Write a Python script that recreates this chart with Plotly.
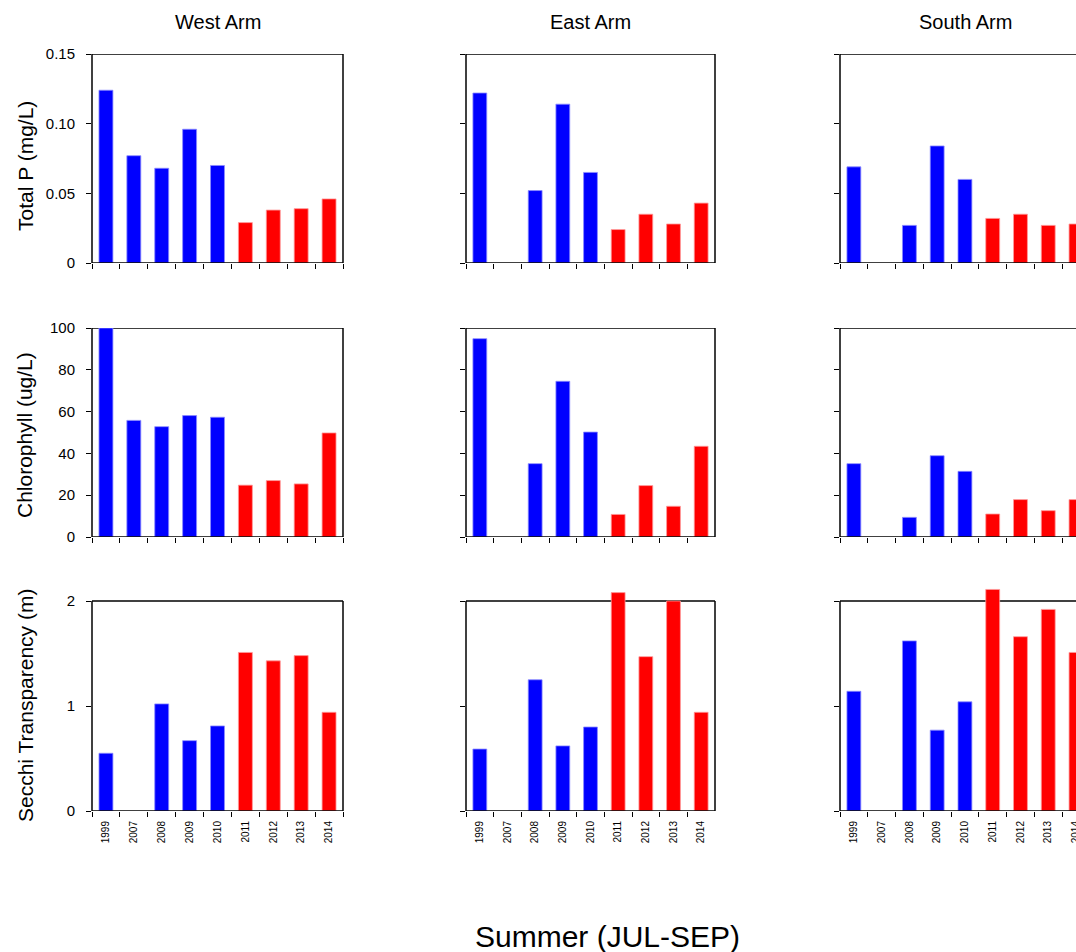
import plotly.graph_objects as go

# Summer (JUL-SEP) water-quality means by lake arm
years = ["1999", "2007", "2008", "2009", "2010", "2011", "2012", "2013", "2014"]
arms = ["West Arm", "East Arm", "South Arm"]
variables = ["Total P (mg/L)", "Chlorophyll (ug/L)", "Secchi Transparency (m)"]

# Total phosphorus (mg/L)
tp_west = [0.124, 0.077, 0.068, 0.096, 0.070, 0.029, 0.038, 0.039, 0.046]
tp_east = [0.122, None, 0.052, 0.114, 0.065, 0.024, 0.035, 0.028, 0.043]
tp_south = [0.069, None, 0.027, 0.084, 0.060, 0.032, 0.035, 0.027, 0.028]

# Chlorophyll (ug/L)
chl_west = [100.0, 55.8, 52.8, 58.1, 57.3, 24.8, 27.0, 25.4, 49.8]
chl_east = [94.9, None, 35.1, 74.5, 50.2, 10.8, 24.6, 14.7, 43.4]
chl_south = [35.1, None, 9.4, 38.9, 31.4, 11.0, 17.9, 12.6, 17.9]

# Secchi transparency (m)
sd_west = [0.55, None, 1.02, 0.67, 0.81, 1.51, 1.43, 1.48, 0.94]
sd_east = [0.59, None, 1.25, 0.62, 0.80, 2.08, 1.47, 2.00, 0.94]
sd_south = [1.14, None, 1.62, 0.77, 1.04, 2.11, 1.66, 1.92, 1.51]

# Years up to 2010 are blue, later years red
before_color = "#0000FF"
after_color = "#FF0000"
split_year = "2010"

# (tick values, tick text, framed range, drawn range)
y_ticks = [
    ([0, 0.05, 0.10, 0.15], ["0", "0.05", "0.10", "0.15"], [0, 0.15], [0, 0.15]),
    ([0, 20, 40, 60, 80, 100], ["0", "20", "40", "60", "80", "100"], [0, 100], [0, 100]),
    ([0, 1, 2], ["0", "1", "2"], [0, 2], [0, 2.15]),
]

grid = [
    [tp_west, tp_east, tp_south],
    [chl_west, chl_east, chl_south],
    [sd_west, sd_east, sd_south],
]

W, H = 1076, 952
col_px = [(92, 343), (466, 715), (840, 1076)]
row_px = [(54, 263), (328, 537), (601, 811)]

FONT = "Liberation Sans, Arial, sans-serif"

fig = go.Figure()
layout = {}
shapes = []

for r in range(3):
    for c in range(3):
        i = r * 3 + c + 1
        xs = "" if i == 1 else str(i)
        vals = grid[r][c]
        colors = [before_color if y <= split_year else after_color for y in years]
        edge = ["#8c8cff" if y <= split_year else "#ff9a9a" for y in years]
        fig.add_trace(go.Bar(
            x=years, y=vals,
            xaxis="x" + xs, yaxis="y" + xs,
            width=0.5,
            marker=dict(color=colors, line=dict(color=edge, width=0.8)),
            showlegend=False,
            hoverinfo="x+y",
        ))

        x0, x1 = col_px[c]
        top, bot = row_px[r]
        tv, tt, frame_rng, draw_rng = y_ticks[r]
        # the Secchi row is drawn a little taller so bars can rise above the frame
        px_per_unit = (bot - top) / (frame_rng[1] - frame_rng[0])
        draw_top = bot - (draw_rng[1] - draw_rng[0]) * px_per_unit

        xrange = [-0.5, 8.5] if c < 2 else [-0.5, 8.0]
        layout["xaxis" + xs] = dict(
            domain=[x0 / W, x1 / W],
            anchor="y" + xs,
            type="category",
            range=xrange,
            showgrid=False, zeroline=False,
            showline=False,
            ticks="outside", ticklen=5, tickwidth=1.2, tickcolor="black",
            tickson="boundaries",
            tickangle=-90,
            showticklabels=(r == 2),
            tickfont=dict(family=FONT, size=10, color="black"),
            ticklabelstandoff=7,
            fixedrange=True,
        )
        layout["yaxis" + xs] = dict(
            domain=[1 - bot / H, 1 - draw_top / H],
            anchor="x" + xs,
            range=draw_rng,
            showgrid=False, zeroline=False,
            showline=False,
            ticks="outside", ticklen=5, tickwidth=1.2, tickcolor="black",
            tickvals=tv, ticktext=tt,
            showticklabels=(c == 0),
            tickfont=dict(family=FONT, size=15, color="black"),
            ticklabelstandoff=8,
            fixedrange=True,
        )

        # frame: bottom, left, top, and right (right edge lies off-page for South Arm)
        xr = "x" + xs + " domain"
        yr = "y" + xs
        line = dict(color="black", width=1.5)
        fr0, fr1 = frame_rng
        shapes.append(dict(type="line", xref=xr, yref=yr, x0=0, x1=1, y0=fr0, y1=fr0,
                           line=line, layer="above"))
        shapes.append(dict(type="line", xref=xr, yref=yr, x0=0, x1=0, y0=fr0, y1=fr1,
                           line=line, layer="above"))
        shapes.append(dict(type="line", xref=xr, yref=yr, x0=0, x1=1, y0=fr1, y1=fr1,
                           line=line, layer="below"))
        if c < 2:
            shapes.append(dict(type="line", xref=xr, yref=yr, x0=1, x1=1, y0=fr0, y1=fr1,
                               line=line, layer="above"))

annotations = []
# Column titles
for c, name in enumerate(arms):
    x0, x1 = col_px[c]
    cx = (x0 + 1090) / 2 if c == 2 else (x0 + x1) / 2
    annotations.append(dict(
        text=name, xref="paper", yref="paper",
        x=cx / W, y=1 - 22 / H, xanchor="center", yanchor="middle",
        showarrow=False, font=dict(family=FONT, size=20, color="black"),
    ))
# Row titles
for r, name in enumerate(variables):
    cy = [166, 435, 706][r]
    annotations.append(dict(
        text=name, xref="paper", yref="paper",
        x=25 / W, y=1 - cy / H, xanchor="center", yanchor="middle",
        textangle=-90, showarrow=False,
        font=dict(family=FONT, size=21, color="black"),
    ))
# Shared x title
annotations.append(dict(
    text="Summer (JUL-SEP)", xref="paper", yref="paper",
    x=607 / W, y=1 - 936 / H, xanchor="center", yanchor="middle",
    showarrow=False, font=dict(family=FONT, size=30, color="black"),
))

fig.update_layout(
    width=W, height=H,
    margin=dict(l=0, r=0, t=0, b=0, autoexpand=False),
    paper_bgcolor="white", plot_bgcolor="white",
    bargap=0.5,
    annotations=annotations,
    shapes=shapes,
    **layout,
)

fig.write_html("out.html", config={"displayModeBar": False})
